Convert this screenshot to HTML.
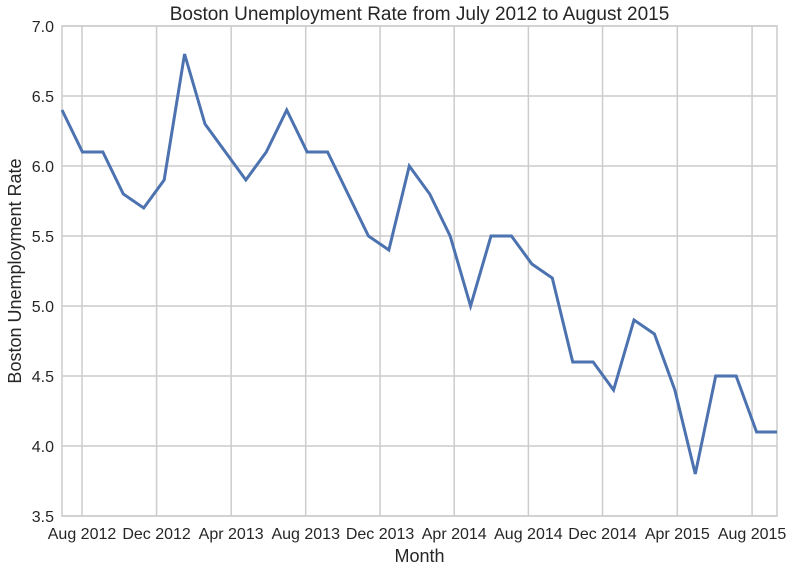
<!DOCTYPE html>
<html><head><meta charset="utf-8"><style>
body{margin:0;background:#fff;}
svg text{font-family:"Liberation Sans",Arial,sans-serif;fill:#262626;}
</style></head><body>
<svg id="c" width="793" height="573"></svg>
<script>
const values=[6.4,6.1,6.1,5.8,5.7,5.9,6.8,6.3,6.1,5.9,6.1,6.4,6.1,6.1,5.8,5.5,5.4,6.0,5.8,5.5,5.0,5.5,5.5,5.3,5.2,4.6,4.6,4.4,4.9,4.8,4.4,3.8,4.5,4.5,4.1,4.1];
const xTickLabels=["Aug 2012","Dec 2012","Apr 2013","Aug 2013","Dec 2013","Apr 2014","Aug 2014","Dec 2014","Apr 2015","Aug 2015"];
const xTickIdx=[0.98,4.63,8.28,11.93,15.57,19.2,22.83,26.46,30.12,33.78];
const yTicks=[3.5,4.0,4.5,5.0,5.5,6.0,6.5,7.0];
const L=62,R=777,T=26,B=516,NS='http://www.w3.org/2000/svg';
const svg=document.getElementById('c');
const xs=i=>L+i*(R-L)/(values.length-1);
const ys=v=>B-(v-3.5)/(7.0-3.5)*(B-T);
function mk(t,a,p){const e=document.createElementNS(NS,t);for(const k in a)e.setAttribute(k,a[k]);(p||svg).appendChild(e);return e;}
const g=mk('g',{});


yTicks.forEach(v=>{
 mk('line',{x1:L,x2:R,y1:ys(v),y2:ys(v),stroke:'#cccccc','stroke-width':1.5},g);
 const t=mk('text',{x:L-8,y:ys(v)+6,'text-anchor':'end','font-size':16});
 t.textContent=v.toFixed(1);
 
 
});
xTickIdx.forEach((p,i)=>{
 mk('line',{x1:xs(p),x2:xs(p),y1:T,y2:B,stroke:'#cccccc','stroke-width':1.5},g);
 const t=mk('text',{x:xs(p),y:B+23,'text-anchor':'middle','font-size':16});
 t.textContent=xTickLabels[i];
 
 
});
mk('rect',{x:L,y:T,width:R-L,height:B-T,fill:'none',stroke:'#cccccc','stroke-width':1.5});
const line=mk('polyline',{points:values.map((v,i)=>xs(i)+','+ys(v)).join(' '),fill:'none',stroke:'#4c72b0','stroke-width':3,'stroke-linejoin':'miter'});


const ti=mk('text',{x:(L+R)/2,y:20,'text-anchor':'middle','font-size':19});
ti.textContent='Boston Unemployment Rate from July 2012 to August 2015';


const xl=mk('text',{x:(L+R)/2,y:562,'text-anchor':'middle','font-size':18});
xl.textContent='Month';


const yl=mk('text',{x:0,y:0,'text-anchor':'middle','font-size':18,transform:'translate(21,'+((T+B)/2)+') rotate(-90)'});
yl.textContent='Boston Unemployment Rate';


</script>
</body></html>
